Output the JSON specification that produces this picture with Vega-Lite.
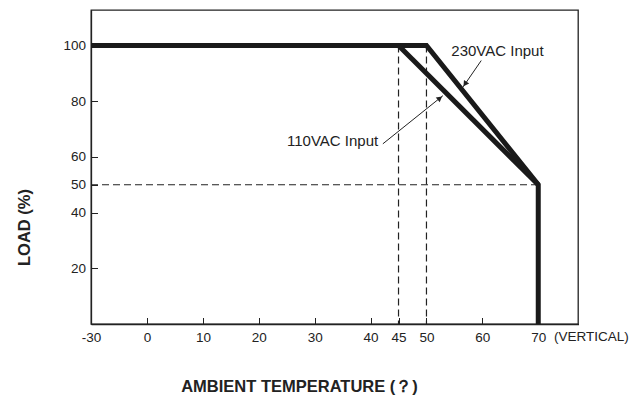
{
  "$schema": "https://vega.github.io/schema/vega-lite/v6.json",
  "width": 487,
  "height": 314,
  "autosize": "none",
  "padding": {"left": 91, "top": 10, "right": 52, "bottom": 79},
  "background": "white",
  "config": {"view": {"stroke": "#222222", "strokeWidth": 1.3}},
  "datasets": {
    "dashes": [
      {"x": 45, "y": 100, "x2": 45, "y2": 0},
      {"x": 50, "y": 100, "x2": 50, "y2": 0},
      {"x": -30, "y": 50, "x2": 70, "y2": 50}
    ],
    "curves": [
      {"series": "230VAC Input", "o": 1, "x": -30, "y": 100},
      {"series": "230VAC Input", "o": 2, "x": 50, "y": 100},
      {"series": "230VAC Input", "o": 3, "x": 70, "y": 50},
      {"series": "230VAC Input", "o": 4, "x": 70, "y": 0},
      {"series": "110VAC Input", "o": 1, "x": 45, "y": 100},
      {"series": "110VAC Input", "o": 2, "x": 70, "y": 50}
    ],
    "arrows": [
      {"a": "230", "x": 59.8, "y": 94.6, "x2": 56.5, "y2": 85.0},
      {"a": "110", "x": 42.2, "y": 64.7, "x2": 52.95, "y2": 82.0}
    ],
    "heads": [
      {"a": "230", "x": 56.9, "y": 86.2},
      {"a": "110", "x": 52.4, "y": 81.1}
    ],
    "labels": [
      {"t": "230VAC Input", "x": 62.7, "y": 97.9},
      {"t": "110VAC Input", "x": 33.2, "y": 65.8}
    ],
    "extra": [
      {"t": "(VERTICAL)", "x": 79.5, "y": -4.5}
    ]
  },
  "encoding": {
    "x": {
      "field": "x",
      "type": "quantitative",
      "scale": {"type": "linear", "domain": [-30, 0, 77.2], "range": [0, 56, 487.5], "nice": false, "zero": false},
      "axis": {
        "values": [-30, 0, 10, 20, 30, 40, 45, 50, 60, 70],
        "labelExpr": "'' + datum.value",
        "tickSize": -6.5,
        "tickColor": "#222222",
        "domainColor": "#222222",
        "domainWidth": 1.3,
        "labelPadding": 13,
        "labelFlush": false,
        "labelFont": "Liberation Sans",
        "labelFontSize": 13.5,
        "labelColor": "#222222",
        "grid": false,
        "title": "AMBIENT TEMPERATURE (？)",
        "titleFont": "Liberation Sans",
        "titleFontWeight": "bold",
        "titleFontSize": 16.5,
        "titleColor": "#222222",
        "titleX": 208,
        "titleY": 67,
        "titleAlign": "center",
        "titleBaseline": "alphabetic"
      }
    },
    "y": {
      "field": "y",
      "type": "quantitative",
      "scale": {"domain": [0, 112.75], "nice": false, "zero": false},
      "axis": {
        "values": [20, 40, 50, 60, 80, 100],
        "tickSize": -6.5,
        "tickColor": "#222222",
        "domainColor": "#222222",
        "domainWidth": 1.3,
        "labelPadding": 12,
        "labelFont": "Liberation Sans",
        "labelFontSize": 13.5,
        "labelColor": "#222222",
        "grid": false,
        "title": "LOAD (%)",
        "titleFont": "Liberation Sans",
        "titleFontWeight": "bold",
        "titleFontSize": 16.5,
        "titleColor": "#222222",
        "titleAngle": -90,
        "titleX": -67,
        "titleY": 217,
        "titleAlign": "center",
        "titleBaseline": "middle"
      }
    }
  },
  "layer": [
    {
      "data": {"name": "dashes"},
      "mark": {"type": "rule", "color": "#222222", "strokeWidth": 1.2, "strokeDash": [7, 4]},
      "encoding": {"x2": {"field": "x2"}, "y2": {"field": "y2"}}
    },
    {
      "data": {"name": "curves"},
      "mark": {"type": "line", "color": "#1a1a1a", "strokeWidth": 5, "strokeJoin": "miter", "strokeCap": "butt"},
      "encoding": {"detail": {"field": "series"}, "order": {"field": "o"}}
    },
    {
      "data": {"name": "arrows"},
      "mark": {"type": "rule", "color": "#222222", "strokeWidth": 1},
      "encoding": {"x2": {"field": "x2"}, "y2": {"field": "y2"}}
    },
    {
      "data": {"name": "heads"},
      "transform": [{"filter": "datum.a == '230'"}],
      "mark": {"type": "point", "shape": "triangle-up", "filled": true, "fill": "#222222", "stroke": null, "opacity": 1, "size": 40, "angle": 214.5}
    },
    {
      "data": {"name": "heads"},
      "transform": [{"filter": "datum.a == '110'"}],
      "mark": {"type": "point", "shape": "triangle-up", "filled": true, "fill": "#222222", "stroke": null, "opacity": 1, "size": 40, "angle": 51.2}
    },
    {
      "data": {"name": "labels"},
      "mark": {"type": "text", "font": "Liberation Sans", "fontSize": 15, "color": "#222222", "align": "center", "baseline": "middle"},
      "encoding": {"text": {"field": "t"}}
    },
    {
      "data": {"name": "extra"},
      "mark": {"type": "text", "font": "Liberation Sans", "fontSize": 13.5, "color": "#222222", "align": "center", "baseline": "middle", "clip": false},
      "encoding": {"text": {"field": "t"}}
    }
  ]
}
